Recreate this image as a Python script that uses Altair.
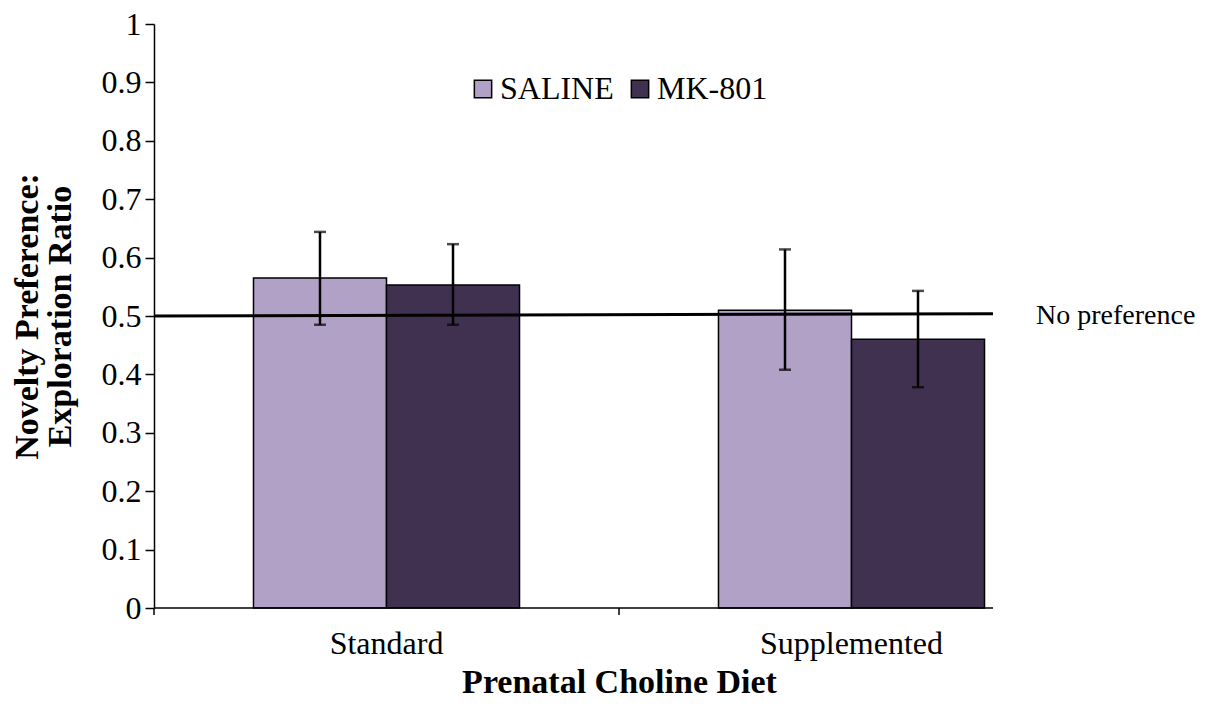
import altair as alt
import pandas as pd

diets = ["Standard", "Standard", "Supplemented", "Supplemented"]
groups = ["SALINE", "MK-801", "SALINE", "MK-801"]
means = [0.565, 0.553, 0.510, 0.460]
err_lo = [0.485, 0.485, 0.408, 0.378]
err_hi = [0.644, 0.623, 0.614, 0.543]

diet_order = ["Standard", "Supplemented"]
group_order = ["SALINE", "MK-801"]
colors = ["#B2A1C7", "#403151"]
y_ticks = [0, 0.1, 0.2, 0.3, 0.4, 0.5, 0.6, 0.7, 0.8, 0.9, 1.0]
ref_start = 0.500
ref_end = 0.504
ref_label = "No preference"

df = pd.DataFrame({"diet": diets, "group": groups, "mean": means,
                   "lo": err_lo, "hi": err_hi})
tick_df = pd.DataFrame({"diet": diet_order})

FONT = "Liberation Serif"
FS = 32
TFS = 34

x_enc = alt.X("diet:N", sort=diet_order,
              scale=alt.Scale(paddingInner=0, paddingOuter=0),
              axis=alt.Axis(title="Prenatal Choline Diet", domain=False, ticks=False,
                            labelAngle=0, labelFontSize=FS, labelFont=FONT,
                            labelColor="black", labelPadding=20, labelLimit=0,
                            titleFontSize=TFS, titleFont=FONT, titleFontWeight="bold",
                            titleColor="black", titlePadding=6))
xoff = alt.XOffset("group:N", sort=group_order,
                   scale=alt.Scale(paddingInner=0, paddingOuter=0.748))
y_scale = alt.Scale(domain=[0, 1], nice=False)

bars = alt.Chart(df).mark_bar(stroke="black", strokeWidth=1.5).encode(
    x=x_enc,
    xOffset=xoff,
    y=alt.Y("mean:Q", scale=y_scale,
            axis=alt.Axis(values=y_ticks, format="~g", grid=False,
                          domainColor="black", domainWidth=1.5,
                          tickColor="black", tickSize=9, tickWidth=1.5,
                          labelFontSize=FS, labelFont=FONT, labelColor="black",
                          labelPadding=4,
                          title=["Novelty Preference:", "Exploration Ratio"],
                          titleFontSize=TFS, titleFont=FONT, titleFontWeight="bold",
                          titleColor="black", titlePadding=24, titleLineHeight=33)),
    color=alt.Color("group:N", sort=group_order,
                    scale=alt.Scale(domain=group_order, range=colors),
                    legend=alt.Legend(title=None, orient="none", direction="horizontal",
                                      legendX=313, legendY=49,
                                      symbolType="square", symbolSize=300,
                                      symbolStrokeColor="black", symbolStrokeWidth=1.5,
                                      labelFontSize=FS, labelFont=FONT,
                                      labelColor="black", labelOffset=1,
                                      columnPadding=10)),
)

err = alt.Chart(df).mark_rule(color="black", strokeWidth=2.5).encode(
    x=alt.X("diet:N", sort=diet_order), xOffset=xoff,
    y=alt.Y("lo:Q", scale=y_scale), y2="hi:Q")

cap_lo = alt.Chart(df).mark_tick(color="black", thickness=2.5, size=12).encode(
    x=alt.X("diet:N", sort=diet_order), xOffset=xoff,
    y=alt.Y("lo:Q", scale=y_scale))
cap_hi = alt.Chart(df).mark_tick(color="black", thickness=2.5, size=12).encode(
    x=alt.X("diet:N", sort=diet_order), xOffset=xoff,
    y=alt.Y("hi:Q", scale=y_scale))

ref = alt.Chart(pd.DataFrame({"a": [ref_start], "b": [ref_end]})).mark_rule(
    color="black", strokeWidth=3).encode(
    x=alt.value(0), x2=alt.value(839),
    y=alt.Y("a:Q", scale=y_scale), y2="b:Q")

ref_text = alt.Chart(pd.DataFrame({"a": [ref_start], "t": [ref_label]})).mark_text(
    align="left", baseline="middle", font=FONT, fontSize=28, color="black").encode(
    x=alt.value(882), y=alt.Y("a:Q", scale=y_scale), text="t:N")

xaxis_line = alt.Chart(pd.DataFrame({"z": [0]})).mark_rule(
    color="black", strokeWidth=1.5).encode(
    x=alt.value(0), x2=alt.value(839), y=alt.Y("z:Q", scale=y_scale))

xticks = alt.Chart(tick_df).mark_rule(color="black", strokeWidth=1.5).encode(
    x=alt.X("diet:N", sort=diet_order, bandPosition=0),
    y=alt.value(584), y2=alt.value(591))

chart = alt.layer(bars, err, cap_lo, cap_hi, ref, ref_text, xaxis_line, xticks).properties(
    width=930, height=584,
    background="white",
    autosize=alt.AutoSizeParams(type="none"),
    padding={"left": 146, "top": 16, "right": 130, "bottom": 95},
).configure_view(stroke=None)

chart.save("out.html", embed_options={"renderer": "svg", "actions": False})
